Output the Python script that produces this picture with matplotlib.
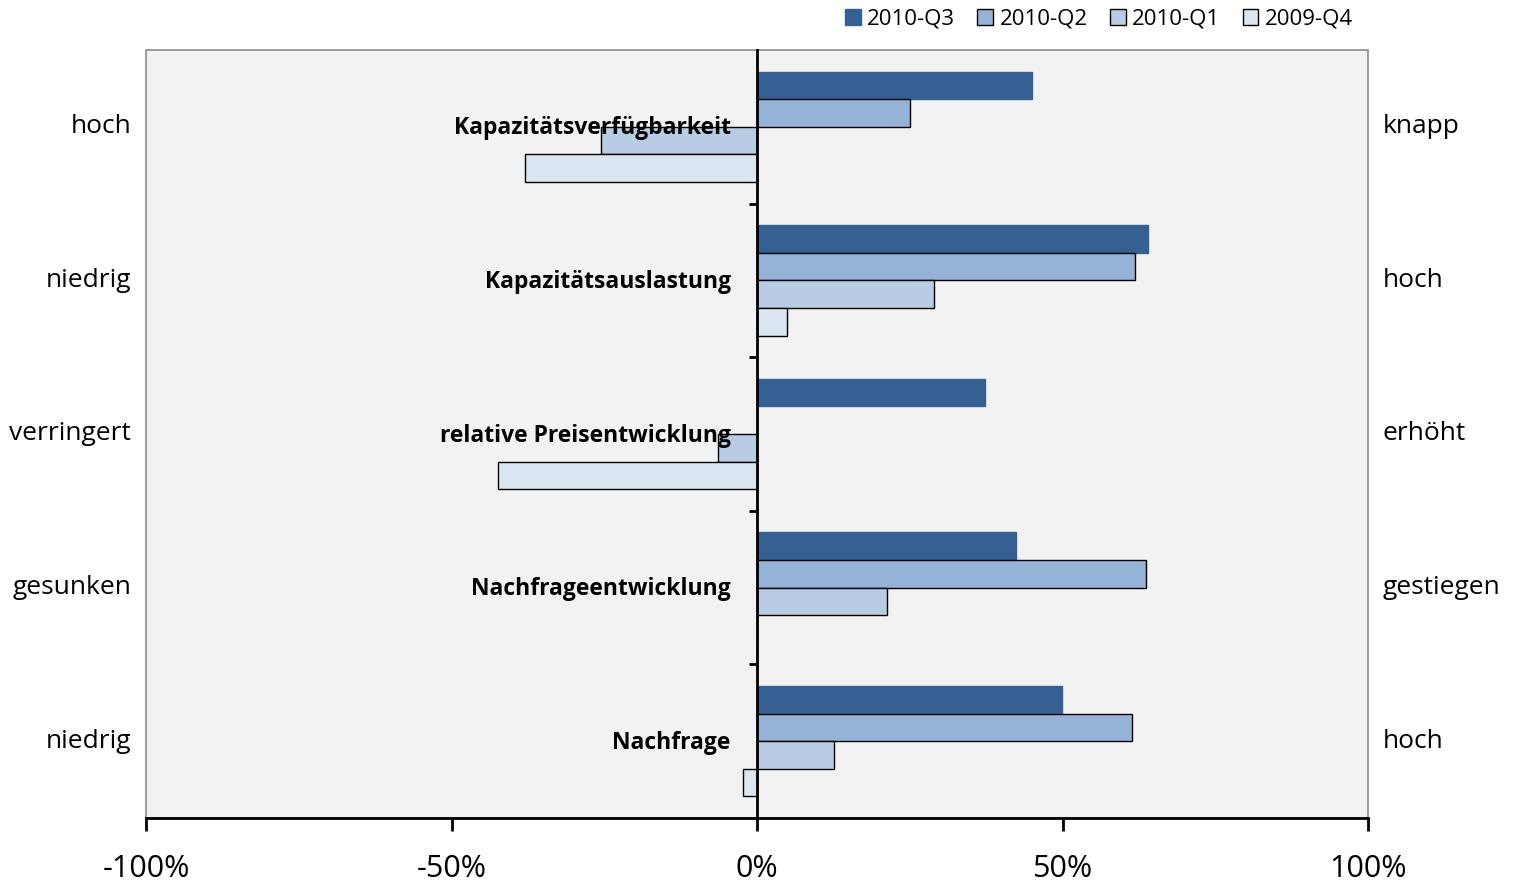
import matplotlib
matplotlib.use("Agg")
import matplotlib.pyplot as plt
from matplotlib.patches import Patch, Rectangle
from matplotlib.transforms import blended_transform_factory

plt.rcParams['font.family'] = ['Open Sans', 'DejaVu Sans']

categories = ["Kapazitätsverfügbarkeit", "Kapazitätsauslastung", "relative Preisentwicklung",
              "Nachfrageentwicklung", "Nachfrage"]
left_labels = ["hoch", "niedrig", "verringert", "gesunken", "niedrig"]
right_labels = ["knapp", "hoch", "erhöht", "gestiegen", "hoch"]

series_names = ["2010-Q3", "2010-Q2", "2010-Q1", "2009-Q4"]
q3_2010 = [45.0, 64.0, 37.3, 42.4, 49.9]
q2_2010 = [25.0, 61.9, 0.0, 63.7, 61.4]
q1_2010 = [-25.5, 29.0, -6.4, 21.3, 12.6]
q4_2009 = [-38.0, 4.9, -42.4, 0.0, -2.3]

xticks = [-100, -50, 0, 50, 100]
xtick_labels = ["-100%", "-50%", "0%", "50%", "100%"]

colors = ["#366092", "#95b3d7", "#b8cce4", "#dce6f1"]
edges = ["#366092", "black", "black", "black"]

fig = plt.figure(figsize=(15.21, 8.86), dpi=100)
ax = fig.add_axes([146 / 1521, 1 - 818 / 886, 1222 / 1521, 768 / 886])
ax.set_facecolor("#f2f2f2")

h = 0.18
ypos = list(range(len(categories)))
for k, vals in enumerate([q3_2010, q2_2010, q1_2010, q4_2009]):
    off = (k - 1.5) * h
    ax.barh([y + off for y in ypos], vals, height=h, color=colors[k],
            edgecolor=edges[k], linewidth=1, zorder=2)

ax.set_xlim(-100, 100)
ax.set_ylim(len(categories) - 0.5, -0.5)

# zero line as y axis, with ticks at the group boundaries
for s in ["top", "right"]:
    ax.spines[s].set_visible(False)
ax.spines["left"].set_position(("data", 0))
ax.spines["left"].set_linewidth(2)
ax.spines["left"].set_zorder(3)
ax.spines["bottom"].set_linewidth(2)
ax.set_yticks([y + 0.5 for y in ypos[:-1]])
ax.tick_params(axis="y", direction="out", length=6, width=2, labelleft=False)
ax.set_xticks(xticks)
ax.set_xticklabels(xtick_labels, fontsize=22)
ax.tick_params(axis="x", direction="out", length=9, width=2, pad=17)

# gray frame around the plot area
ax.add_patch(Rectangle((0, 0), 1, 1, transform=ax.transAxes, fill=False,
                       edgecolor="#8c8c8c", linewidth=1.2, zorder=1, clip_on=False))

tr = blended_transform_factory(ax.transAxes, ax.transData)
for y, cat, lt, rt in zip(ypos, categories, left_labels, right_labels):
    ax.text(-4.3, y + 0.01, cat, ha="right", va="center", fontsize=16.5, fontweight="bold", zorder=4)
    ax.text(-0.012, y, lt, transform=tr, ha="right", va="center", fontsize=19)
    ax.text(1.012, y, rt, transform=tr, ha="left", va="center", fontsize=19)

handles = [Patch(facecolor=c, edgecolor=e, linewidth=1) for c, e in zip(colors, edges)]
fig.legend(handles, series_names, loc="center", bbox_to_anchor=(1099 / 1521, 1 - 19 / 886),
           ncol=4, frameon=False, fontsize=16, handlelength=0.7, handleheight=0.7,
           handletextpad=0.3, columnspacing=1.0)

fig.savefig("out.png", dpi=100)
